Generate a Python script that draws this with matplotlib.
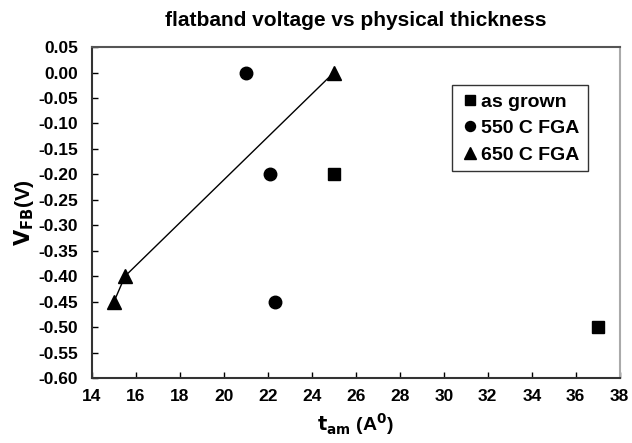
import matplotlib.pyplot as plt
import numpy as np

plt.rcParams['font.family'] = ['Liberation Sans', 'DejaVu Sans']
plt.rcParams['font.weight'] = 'bold'

# data
grown_x = [25, 37]
grown_y = [-0.20, -0.50]
fga550_x = [21, 22.1, 22.3]
fga550_y = [0.00, -0.20, -0.45]
fga650_x = [15, 15.5, 25]
fga650_y = [-0.45, -0.40, 0.00]

fig = plt.figure(figsize=(6.32, 4.43), dpi=100)
ax = fig.add_axes([0.1456, 0.1467, 0.835, 0.747])

ax.plot(grown_x, grown_y, 's', color='black', ms=9, label='as grown')
ax.plot(fga550_x, fga550_y, 'o', color='black', ms=9, label='550 C FGA')
ax.plot(fga650_x, fga650_y, '^', color='black', ms=10, label='650 C FGA')
# line joining the 650 C points
ax.plot(fga650_x, fga650_y, '-', color='black', lw=1)

ax.set_xlim(14, 38)
ax.set_ylim(-0.60, 0.05)
ax.set_xticks(np.arange(14, 39, 2))
yt = np.arange(-0.60, 0.051, 0.05)
ax.set_yticks(yt)
ax.set_yticklabels(['%.2f' % v for v in yt])
ax.tick_params(direction='in', length=4, labelsize=12.5, width=1)
ax.tick_params(axis='y', pad=10)
ax.tick_params(axis='x', pad=8)
for lbl in ax.get_xticklabels() + ax.get_yticklabels():
    lbl.set_fontweight('bold')
ax.spines['top'].set_color('#555555')
ax.spines['right'].set_color('#aaaaaa')
ax.spines['left'].set_color('#333333')
ax.spines['bottom'].set_color('#333333')
for s in ax.spines.values():
    s.set_linewidth(1.5)

ax.set_title('flatband voltage vs physical thickness', fontsize=15, fontweight='bold', pad=15)
ax.set_xlabel(r'$\mathbf{t_{am}}$ (A$^\mathbf{0}$)', fontsize=14, fontweight='bold', labelpad=5)
ax.set_ylabel(r'$\mathbf{V_{FB}}$(V)', fontsize=15, fontweight='bold', labelpad=2)

leg = ax.legend(loc='upper right', bbox_to_anchor=(0.939, 0.884), fontsize=14,
                frameon=True, fancybox=False, edgecolor='black', handletextpad=0.1,
                handlelength=1.0, borderpad=0.4, labelspacing=0.45, borderaxespad=0,
                markerscale=0.8, prop={'weight': 'bold', 'size': 14})
leg.get_frame().set_linewidth(1)

fig.savefig('out.png', dpi=100)
